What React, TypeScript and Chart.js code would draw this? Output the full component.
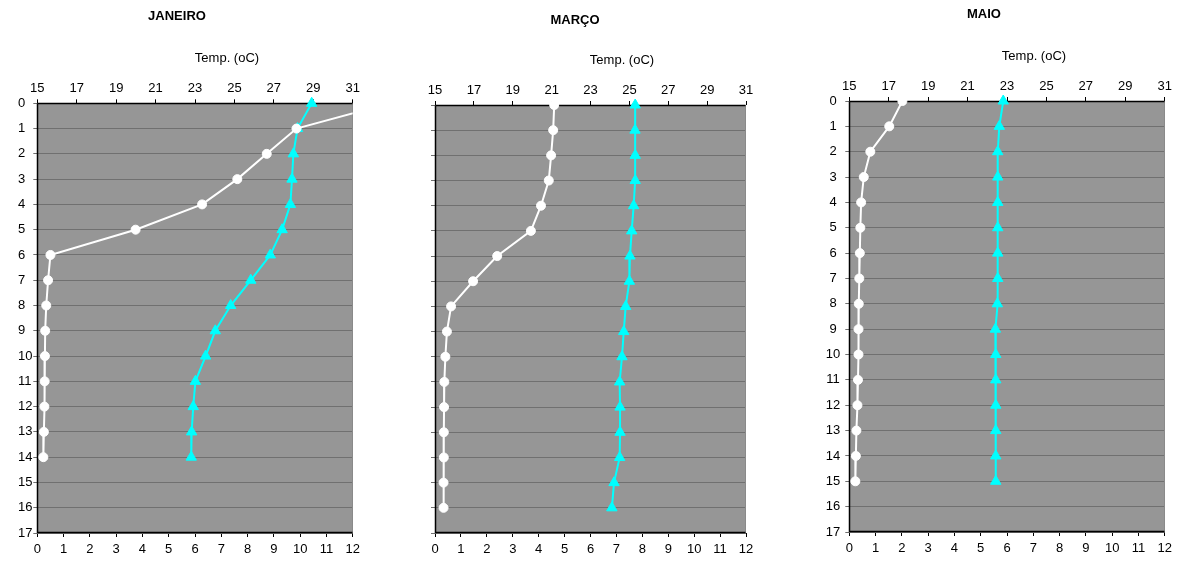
import React, { useEffect, useRef } from "react";
import { Chart, registerables } from "chart.js";

Chart.register(...registerables);

// ---------- data ----------
const oxygenTicks = [0, 1, 2, 3, 4, 5, 6, 7, 8, 9, 10, 11, 12];
const tempTicks = [15, 17, 19, 21, 23, 25, 27, 29, 31];
const depthTicks = [0, 1, 2, 3, 4, 5, 6, 7, 8, 9, 10, 11, 12, 13, 14, 15, 16, 17];

const titles = ["JANEIRO", "MARÇO", "MAIO"];
const tempAxisLabel = "Temp. (oC)";

const depthsJan = [0, 1, 2, 3, 4, 5, 6, 7, 8, 9, 10, 11, 12, 13, 14];
const oxygenJan = [13.4, 9.86, 8.73, 7.61, 6.27, 3.74, 0.5, 0.41, 0.34, 0.3, 0.29, 0.28, 0.27, 0.25, 0.23];
const tempJan = [28.92, 28.2, 27.99, 27.92, 27.84, 27.42, 26.82, 25.83, 24.81, 24.03, 23.54, 23.02, 22.91, 22.83, 22.81];

const depthsMar = [0, 1, 2, 3, 4, 5, 6, 7, 8, 9, 10, 11, 12, 13, 14, 15, 16];
const oxygenMar = [4.6, 4.56, 4.48, 4.39, 4.09, 3.7, 2.4, 1.47, 0.62, 0.46, 0.4, 0.36, 0.35, 0.34, 0.34, 0.33, 0.33];
const tempMar = [25.3, 25.29, 25.3, 25.3, 25.22, 25.12, 25.03, 25.0, 24.81, 24.71, 24.62, 24.5, 24.52, 24.52, 24.5, 24.21, 24.1];

const depthsMai = [0, 1, 2, 3, 4, 5, 6, 7, 8, 9, 10, 11, 12, 13, 14, 15];
const oxygenMai = [2.02, 1.52, 0.8, 0.55, 0.45, 0.42, 0.4, 0.38, 0.36, 0.35, 0.35, 0.33, 0.31, 0.27, 0.25, 0.23];
const tempMai = [22.81, 22.61, 22.53, 22.53, 22.53, 22.53, 22.53, 22.53, 22.51, 22.41, 22.43, 22.43, 22.43, 22.43, 22.43, 22.43];

// ---------- styling ----------
const FONT_FAMILY = "'Liberation Sans', Arial, Helvetica, sans-serif";
const PLOT_BG = "#969696";
const GRID = "#707070";
const CYAN = "#00ffff";

const panelDecor = {
  id: "panelDecor",
  beforeDraw(chart: any) {
    const { ctx, chartArea } = chart;
    if (!chartArea) return;
    ctx.save();
    ctx.fillStyle = PLOT_BG;
    ctx.fillRect(chartArea.left, chartArea.top, chartArea.right - chartArea.left, chartArea.bottom - chartArea.top);
    ctx.restore();
  },
  beforeDatasetsDraw(chart: any) {
    const { ctx, chartArea } = chart;
    const l = Math.round(chartArea.left) + 0.5;
    const r = Math.round(chartArea.right) - 0.5;
    const t = Math.round(chartArea.top) + 0.5;
    const b = Math.round(chartArea.bottom) - 0.5;
    ctx.save();
    ctx.lineWidth = 1;
    ctx.strokeStyle = "#8a8a8a";
    ctx.beginPath();
    ctx.moveTo(r, t);
    ctx.lineTo(r, b);
    ctx.stroke();
    ctx.lineWidth = 1.5;
    ctx.strokeStyle = "#000";
    ctx.beginPath();
    ctx.moveTo(l, t);
    ctx.lineTo(r, t);
    ctx.moveTo(l, t);
    ctx.lineTo(l, b);
    ctx.lineTo(r, b);
    ctx.stroke();
    ctx.restore();
  },
  afterDraw(chart: any, _args: any, opts: any) {
    const { ctx } = chart;
    ctx.save();
    ctx.fillStyle = "#000";
    ctx.textAlign = "center";
    ctx.textBaseline = "middle";
    ctx.font = `bold 13px ${FONT_FAMILY}`;
    ctx.fillText(opts.title, opts.titleX, opts.titleY);
    ctx.font = `13px ${FONT_FAMILY}`;
    ctx.fillText(opts.axisLabel, opts.axisX, opts.axisY);
    ctx.restore();
  },
};

type Geo = {
  canvasLeft: number;
  width: number;
  pad: { left: number; right: number; top: number; bottom: number };
  yWidth: number;
  yCross: "near" | "center" | "far";
  yLabels: boolean;
  x2Height: number;
  xHeight: number;
  titleX: number;
  titleY: number;
  axisX: number;
  axisY: number;
};

function makeConfig(title: string, depths: number[], oxygen: number[], temp: number[], g: Geo): any {
  const font = { family: FONT_FAMILY, size: 13 };
  return {
    type: "scatter",
    data: {
      datasets: [
        {
          label: "O2",
          data: depths.map((d, i) => ({ x: oxygen[i], y: d })),
          xAxisID: "x",
          yAxisID: "y",
          showLine: true,
          borderColor: "#ffffff",
          borderWidth: 2,
          pointStyle: "circle",
          pointRadius: 4.5,
          pointBorderWidth: 1,
          pointBackgroundColor: "#ffffff",
          pointBorderColor: "#ffffff",
          clip: { left: 10, top: 10, right: 0, bottom: 10 },
        },
        {
          label: "Temp",
          data: depths.map((d, i) => ({ x: temp[i], y: d })),
          xAxisID: "x2",
          yAxisID: "y",
          showLine: true,
          borderColor: CYAN,
          borderWidth: 2,
          pointStyle: "triangle",
          pointRadius: 6,
          pointBorderWidth: 1,
          pointBackgroundColor: CYAN,
          pointBorderColor: CYAN,
          clip: { left: 10, top: 10, right: 10, bottom: 10 },
        },
      ],
    },
    options: {
      responsive: false,
      animation: false,
      events: [],
      layout: { padding: g.pad },
      plugins: {
        legend: { display: false },
        tooltip: { enabled: false },
        title: { display: false },
        panelDecor: {
          title,
          axisLabel: tempAxisLabel,
          titleX: g.titleX,
          titleY: g.titleY,
          axisX: g.axisX,
          axisY: g.axisY,
        },
      },
      scales: {
        x: {
          type: "linear",
          position: "bottom",
          min: oxygenTicks[0],
          max: oxygenTicks[oxygenTicks.length - 1],
          afterBuildTicks: (s: any) => {
            s.ticks = oxygenTicks.map((v) => ({ value: v }));
          },
          afterFit: (s: any) => {
            s.height = g.xHeight;
          },
          grid: { display: true, drawOnChartArea: false, drawTicks: true, tickLength: 4, color: "#000" },
          border: { display: false },
          ticks: { padding: 5, color: "#000", font, maxRotation: 0, autoSkip: false },
        },
        x2: {
          type: "linear",
          axis: "x",
          position: "top",
          min: tempTicks[0],
          max: tempTicks[tempTicks.length - 1],
          afterBuildTicks: (s: any) => {
            s.ticks = tempTicks.map((v) => ({ value: v }));
          },
          afterFit: (s: any) => {
            s.height = g.x2Height;
          },
          grid: { display: true, drawOnChartArea: false, drawTicks: true, tickLength: 4, color: "#000" },
          border: { display: false },
          ticks: { padding: 3, color: "#000", font, maxRotation: 0, autoSkip: false },
        },
        y: {
          type: "linear",
          position: "left",
          reverse: true,
          min: depthTicks[0],
          max: depthTicks[depthTicks.length - 1],
          afterBuildTicks: (s: any) => {
            s.ticks = depthTicks.map((v) => ({ value: v }));
          },
          afterFit: (s: any) => {
            s.width = g.yWidth;
          },
          grid: { display: true, drawOnChartArea: true, drawTicks: true, tickLength: 4, color: GRID, lineWidth: 1 },
          border: { display: false },
          ticks: {
            display: g.yLabels,
            padding: 5,
            color: "#000",
            font,
            crossAlign: g.yCross,
            autoSkip: false,
          },
        },
      },
    },
    plugins: [panelDecor],
  };
}

const geoJan: Geo = {
  canvasLeft: 0,
  width: 390,
  pad: { left: 18, right: 37.3, top: 73.3, bottom: 0 },
  yWidth: 19.3,
  yCross: "far",
  yLabels: true,
  x2Height: 30,
  xHeight: 28,
  titleX: 177,
  titleY: 16.7,
  axisX: 227,
  axisY: 58,
};

const geoMar: Geo = {
  canvasLeft: 390,
  width: 400,
  pad: { left: 35, right: 44, top: 75, bottom: 0 },
  yWidth: 10,
  yCross: "near",
  yLabels: false,
  x2Height: 30,
  xHeight: 28,
  titleX: 185,
  titleY: 20,
  axisX: 232,
  axisY: 60,
};

const geoMai: Geo = {
  canvasLeft: 790,
  width: 388,
  pad: { left: 29.3, right: 13.3, top: 71, bottom: 0 },
  yWidth: 30,
  yCross: "center",
  yLabels: true,
  x2Height: 30,
  xHeight: 29,
  titleX: 194,
  titleY: 14.3,
  axisX: 244,
  axisY: 56,
};

function Panel({ config, geo }: { config: any; geo: Geo }) {
  const ref = useRef<HTMLCanvasElement>(null);
  useEffect(() => {
    const chart = new Chart(ref.current as HTMLCanvasElement, config);
    return () => chart.destroy();
  }, []);
  return (
    <canvas
      ref={ref}
      width={geo.width}
      height={561}
      style={{ position: "absolute", left: geo.canvasLeft, top: 0, width: geo.width, height: 561, display: "block" }}
    />
  );
}

export default function App() {
  return (
    <div style={{ position: "absolute", left: 0, top: 0, width: 1178, height: 561, background: "#fff" }}>
      <Panel geo={geoJan} config={makeConfig(titles[0], depthsJan, oxygenJan, tempJan, geoJan)} />
      <Panel geo={geoMar} config={makeConfig(titles[1], depthsMar, oxygenMar, tempMar, geoMar)} />
      <Panel geo={geoMai} config={makeConfig(titles[2], depthsMai, oxygenMai, tempMai, geoMai)} />
    </div>
  );
}
